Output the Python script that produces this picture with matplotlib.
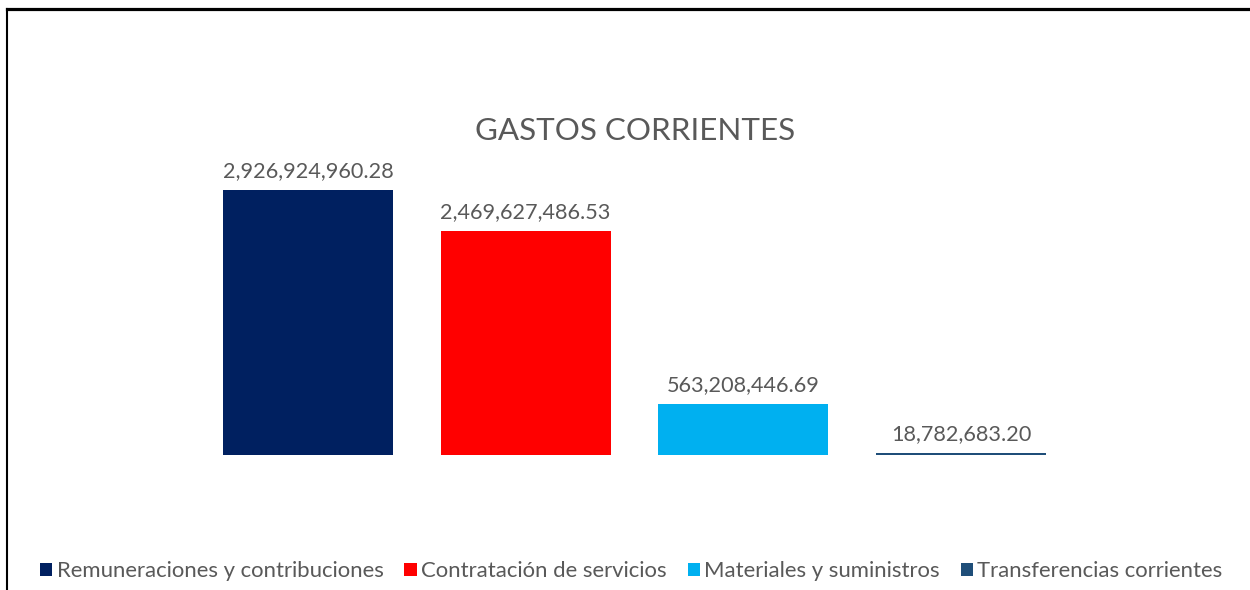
import matplotlib.pyplot as plt
from matplotlib.lines import Line2D
from matplotlib.patches import Patch

categorias = ["Remuneraciones y contribuciones", "Contratación de servicios",
              "Materiales y suministros", "Transferencias corrientes"]
montos = [2926924960.28, 2469627486.53, 563208446.69, 18782683.20]
colores = ["#002060", "#FF0000", "#00B0F0", "#1F4E79"]

plt.rcParams["font.family"] = ["Lato", "DejaVu Sans"]
gris = "#595959"

fig = plt.figure(figsize=(12.5, 5.9), dpi=100)
ax = fig.add_axes([199 / 1250, 1 - 455 / 590, 871 / 1250, 305 / 590])

x = range(len(categorias))
barras = ax.bar(x, montos, width=0.78, color=colores)
for b, v in zip(barras, montos):
    ax.annotate("{:,.2f}".format(v), (b.get_x() + b.get_width() / 2, v),
                xytext=(0, 6.5), textcoords="offset points", ha="center", va="bottom",
                fontsize=15.6, color=gris)

ax.set_xlim(-0.5, 3.5)
ax.set_ylim(0, montos[0] * 305 / 265)
ax.axis("off")

fig.text(0.508, 1 - 131 / 590, "GASTOS CORRIENTES", ha="center", va="center",
         fontsize=22.6, color=gris)

handles = [Patch(facecolor=c) for c in colores]
fig.legend(handles, categorias, loc="center", bbox_to_anchor=(0.505, 1 - 571 / 590),
           ncol=4, frameon=False, fontsize=15.9, handlelength=0.55, handleheight=0.55,
           handletextpad=0.2, columnspacing=0.95, labelcolor=gris)

# marco superior e izquierdo
fig.add_artist(Line2D([0.0056, 1], [1 - 8.5 / 590] * 2, color="black", lw=2.3,
                      transform=fig.transFigure))
fig.add_artist(Line2D([0.0056, 0.0056], [0, 1 - 8.5 / 590], color="black", lw=1.5,
                      transform=fig.transFigure))

fig.savefig("out.png", dpi=100)
